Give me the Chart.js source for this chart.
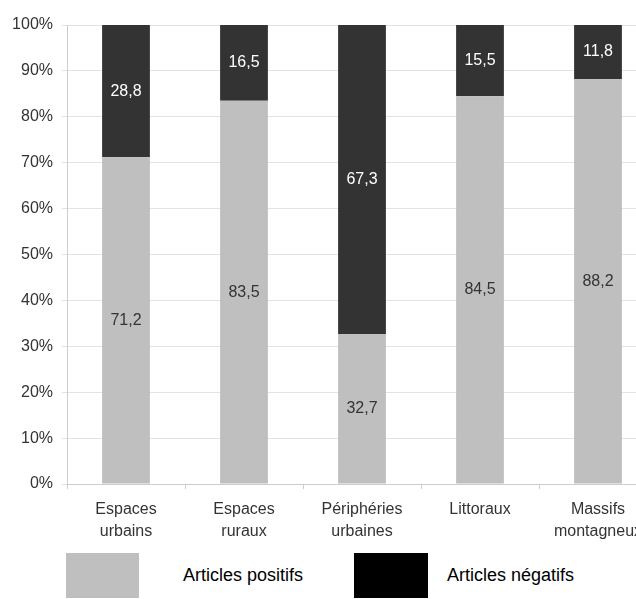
<!DOCTYPE html>
<html>
<head>
  <meta charset="UTF-8">
  <title>Articles positifs / négatifs</title>
  <script src="https://cdn.jsdelivr.net/npm/chart.js@4/dist/chart.umd.min.js"></script>
  <style>
    html, body { margin: 0; padding: 0; overflow: hidden; background: #fff; }
    #wrap { position: relative; width: 636px; height: 599px; overflow: hidden; }
    .chart-container { position: absolute; left: 0; top: 0; width: 659px; height: 545px; }
    .lg-box { position: absolute; top: 553px; height: 45px; }
    .lg-txt { position: absolute; top: 553px; height: 45px; line-height: 45px;
              font-family: "Liberation Sans", Arial, sans-serif; font-size: 18px; color: #000; }
  </style>
</head>
<body>
  <div id="wrap">
    <div class="chart-container">
      <canvas id="bar-chart"></canvas>
    </div>
    <div class="lg-box" style="left:66px; width:73px; background:#bfbfbf;"></div>
    <div class="lg-txt" style="left:183px;">Articles positifs</div>
    <div class="lg-box" style="left:354px; width:74px; background:#000;"></div>
    <div class="lg-txt" style="left:447px;">Articles négatifs</div>
  </div>
  <script>
    var categories = [['Espaces', 'urbains'], ['Espaces', 'ruraux'], ['Périphéries', 'urbaines'], 'Littoraux', ['Massifs', 'montagneux']];
    var positifs = [71.2, 83.5, 32.7, 84.5, 88.2];
    var negatifs = [28.8, 16.5, 67.3, 15.5, 11.8];
    var yTicks = [0, 10, 20, 30, 40, 50, 60, 70, 80, 90, 100];

    var fontFam = '"Liberation Sans", Arial, sans-serif';

    // value labels in the middle of each segment
    var valueLabels = {
      id: 'valueLabels',
      afterDatasetsDraw: function(chart) {
        var ctx = chart.ctx;
        ctx.save();
        ctx.font = '16px ' + fontFam;
        ctx.textAlign = 'center';
        ctx.textBaseline = 'middle';
        chart.data.datasets.forEach(function(ds, i) {
          var meta = chart.getDatasetMeta(i);
          meta.data.forEach(function(bar, j) {
            var p = bar.getProps(['x', 'y', 'base'], true);
            ctx.fillStyle = ds.labelColor;
            ctx.fillText(String(ds.data[j]).replace('.', ','), p.x, (p.y + p.base) / 2);
          });
        });
        ctx.restore();
      }
    };

    new Chart(document.getElementById('bar-chart'), {
      type: 'bar',
      data: {
        labels: categories,
        datasets: [{
          label: 'Articles positifs',
          data: positifs,
          backgroundColor: '#bfbfbf',
          labelColor: '#333333',
          barPercentage: 0.405,
          categoryPercentage: 1.0
        }, {
          label: 'Articles négatifs',
          data: negatifs,
          backgroundColor: '#333333',
          labelColor: '#ffffff',
          barPercentage: 0.405,
          categoryPercentage: 1.0
        }]
      },
      plugins: [valueLabels],
      options: {
        responsive: true,
        maintainAspectRatio: false,
        animation: false,
        layout: { padding: { top: 25, right: 2, left: 0, bottom: 0 } },
        plugins: {
          legend: { display: false },
          tooltip: { enabled: false }
        },
        scales: {
          x: {
            stacked: true,
            afterFit: function(s) { s.height = 61; },
            grid: { drawOnChartArea: false, color: '#cccccc', tickLength: 5 },
            border: { color: '#cccccc' },
            ticks: {
              color: '#333333',
              padding: 10,
              maxRotation: 0,
              autoSkip: false,
              font: { family: fontFam, size: 16, lineHeight: 1.35 }
            }
          },
          y: {
            stacked: true,
            min: 0,
            max: 100,
            afterFit: function(s) { s.width = 67; },
            afterBuildTicks: function(s) { s.ticks = yTicks.map(function(v) { return { value: v }; }); },
            grid: { color: '#e3e3e3', tickLength: 5 },
            border: { color: '#cccccc' },
            ticks: {
              color: '#333333',
              padding: 9,
              font: { family: fontFam, size: 16 },
              callback: function(v) { return v + '%'; }
            }
          }
        }
      }
    });
  </script>
</body>
</html>
